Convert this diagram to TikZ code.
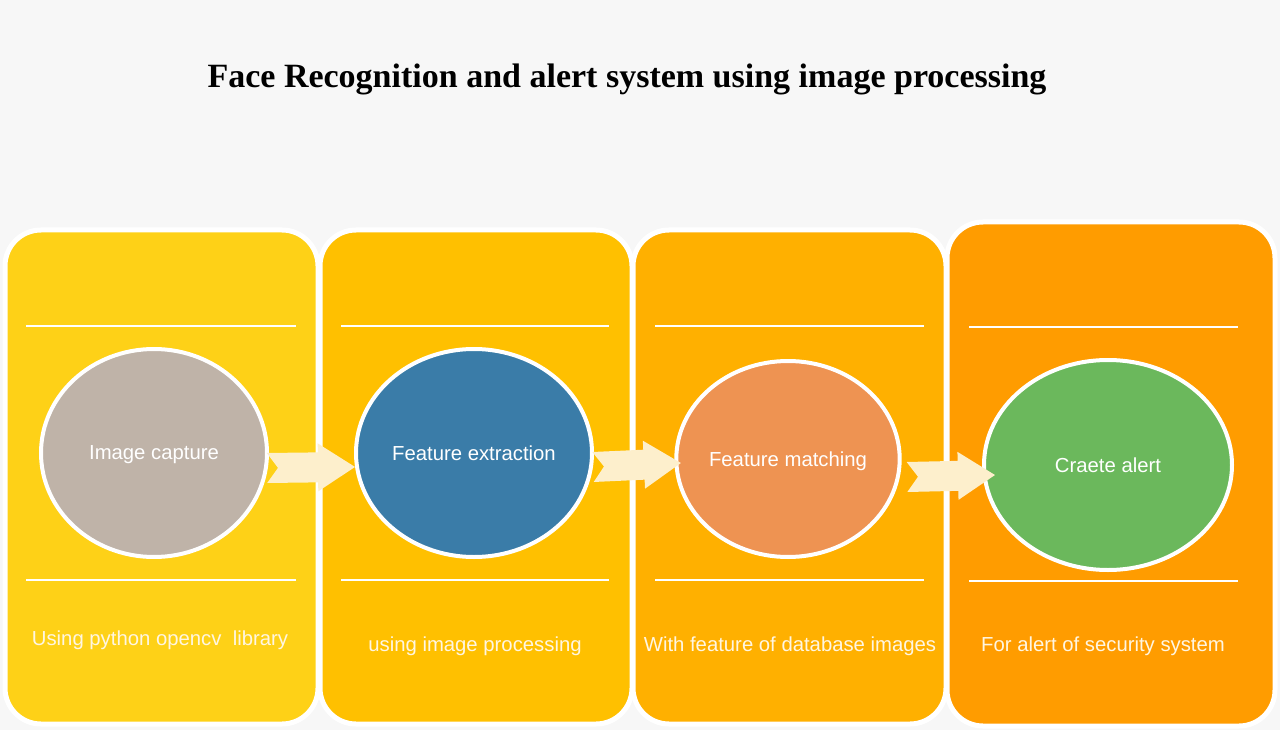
\documentclass[tikz,border=0pt]{standalone}
\usepackage{fontspec}
\setmainfont{Liberation Sans}
\newfontfamily\titlefont{Liberation Serif}
\usetikzlibrary{shapes.geometric}
\definecolor{bgc}{HTML}{F7F7F7}
\definecolor{boxa}{HTML}{FED117}
\definecolor{boxb}{HTML}{FFC000}
\definecolor{boxc}{HTML}{FFB000}
\definecolor{boxd}{HTML}{FF9C00}
\definecolor{ella}{HTML}{BFB3A8}
\definecolor{ellb}{HTML}{3A7CA8}
\definecolor{ellc}{HTML}{EE9352}
\definecolor{elld}{HTML}{6BB85C}
\definecolor{arrowfill}{HTML}{FDEFCC}
\definecolor{subtext}{HTML}{FFF6E2}
\tikzset{
  panel/.style={draw=white, line width=5pt, rounded corners=36pt},
  sep/.style={draw=white, line width=1.6pt},
  stage/.style={ellipse, draw=white, line width=4pt, inner sep=0pt, text=white, text depth=0pt, font=\fontsize{20.3}{22}\selectfont},
  subl/.style={text=subtext, text depth=0pt, font=\fontsize{20.3}{22}\selectfont},
  barrow/.pic={\fill[arrowfill] (0,-15) -- (51,-15) -- (51,-24) -- (88,0) -- (51,24) -- (51,15) -- (0,15) -- (11,0) -- cycle;}
}
\begin{document}
\begin{tikzpicture}[x=1pt,y=-1pt]
\fill[bgc] (0,0) rectangle (1280,730);
\useasboundingbox (0,0) rectangle (1280,730);
\node[font=\titlefont\bfseries\fontsize{34}{38}\selectfont] (title) at (627,79) {Face Recognition and alert system using image processing};
% panels
\filldraw[panel, fill=boxa] (5,230) rectangle (318,724);
\filldraw[panel, fill=boxb] (320,230) rectangle (632,724);
\filldraw[panel, fill=boxc] (633,230) rectangle (946,724);
\filldraw[panel, fill=boxd] (947,222) rectangle (1275,726);
% separators
\draw[sep] (26,326) -- (296,326); \draw[sep] (26,580) -- (296,580);
\draw[sep] (341,326) -- (609,326); \draw[sep] (341,580) -- (609,580);
\draw[sep] (655,326) -- (924,326); \draw[sep] (655,580) -- (924,580);
\draw[sep] (969,327) -- (1238,327); \draw[sep] (969,581) -- (1238,581);
% stages
\node[stage, fill=ella, minimum width=226pt, minimum height=208pt] (e1) at (154,453) {Image capture};
\node[stage, fill=ellb, minimum width=236pt, minimum height=208pt] (e2) at (474,453) {Feature extraction};
\node[stage, fill=ellc, minimum width=216pt, minimum height=196pt] (e3) at (788,459) {Feature matching};
\node[stage, fill=elld, minimum width=248pt, minimum height=210pt] (e4) at (1108,465) {Craete alert};
% sub labels
\node[subl] (s1) at (160,638) {Using python opencv\ \ library};
\node[subl] (s2) at (475,644) {using image processing};
\node[subl] (s3) at (790,644) {With feature of database images};
\node[subl] (s4) at (1103,644) {For alert of security system};
% arrows
\coordinate (a1) at (267,468);
\coordinate (a2) at (593,467);
\coordinate (a3) at (907,477);
\pic[rotate=0.7] at (a1) {barrow};
\pic[rotate=2.6] at (a2) {barrow};
\pic[rotate=1.3] at (a3) {barrow};
\end{tikzpicture}
\end{document}
